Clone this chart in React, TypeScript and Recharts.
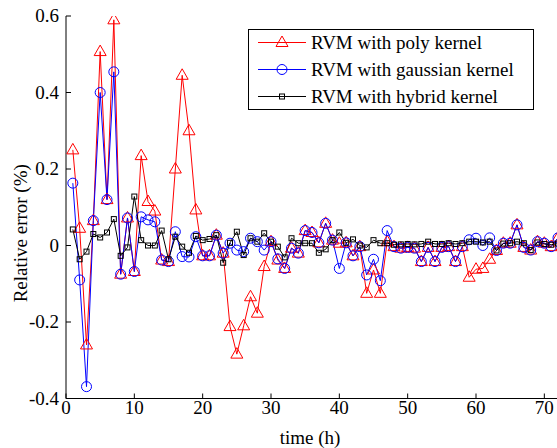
import React from "react"
import {
  LineChart,
  Line,
  XAxis,
  YAxis,
  Legend,
} from "recharts"

// hours 1..72
const hours = Array.from({ length: 72 }, (_, i) => i + 1)

// RVM with poly kernel
const polyErr = [
  0.25, 0.045, -0.26, 0.065, 0.507, 0.12, 0.59, -0.075, 0.072, -0.068,
  0.235, 0.115, 0.09, -0.038, -0.042, 0.2, 0.445, 0.3, 0.093, -0.027,
  -0.027, 0.027, -0.02, -0.212, -0.284, -0.21, -0.134, -0.177, -0.055, 0.01,
  -0.038, -0.06, -0.007, -0.02, 0.039, 0.034, 0.007, 0.058, 0.014, 0.006,
  0.007, -0.027, -0.003, -0.125, -0.064, -0.125, 0.01, -0.003, -0.007, -0.005,
  -0.007, -0.042, -0.005, -0.042, -0.005, -0.003, -0.042, -0.003, -0.083, -0.062,
  -0.06, -0.036, -0.013, 0.006, 0.006, 0.054, -0.005, -0.012, 0.01, 0.006,
  -0.003, 0.02,
]

// RVM with gaussian kernel
const gaussErr = [
  0.163, -0.09, -0.369, 0.065, 0.4, 0.12, 0.454, -0.075, 0.072, -0.068,
  0.075, 0.067, 0.062, -0.038, -0.042, 0.036, -0.029, -0.03, 0.023, -0.027,
  -0.027, 0.027, -0.02, 0.006, -0.012, -0.016, 0.019, 0.01, -0.012, 0.01,
  -0.035, -0.06, -0.007, -0.02, 0.039, 0.034, 0.007, 0.058, 0.014, -0.06,
  0.007, -0.027, -0.003, -0.077, -0.036, -0.092, 0.039, -0.003, -0.007, -0.005,
  -0.007, -0.042, -0.005, -0.042, -0.005, -0.003, -0.042, -0.003, 0.015, 0.019,
  0, 0.02, -0.013, 0.006, 0.006, 0.054, -0.005, -0.012, 0.01, 0.006,
  -0.003, 0.02,
]

// RVM with hybrid kernel
const hybridErr = [
  0.042, -0.036, -0.016, 0.03, 0.021, 0.034, 0.069, -0.027, -0.005, 0.128,
  0.014, 0, 0, 0.039, -0.036, 0.023, -0.003, -0.019, 0.025, 0.014,
  0.017, 0.027, -0.045, 0.007, 0.036, -0.025, 0.019, 0.01, 0.032, 0.01,
  -0.003, -0.031, 0.019, 0.006, 0.006, 0.006, -0.019, -0.01, 0.014, 0.034,
  0.007, 0.016, 0, -0.005, 0.014, 0.006, 0.006, 0.002, 0.003, 0.004,
  0.003, 0.004, 0.01, 0.004, 0.004, 0.006, 0.004, 0.006, 0.01, 0.01,
  0.008, 0.01, -0.013, 0.005, 0.006, 0.01, 0.006, -0.012, 0.008, 0.004,
  0.002, 0.005,
]

const xTicks = [0, 10, 20, 30, 40, 50, 60, 70]
const yTicks = [-0.4, -0.2, 0, 0.2, 0.4, 0.6]

const seriesNames = [
  "RVM with poly kernel",
  "RVM with gaussian kernel",
  "RVM with hybrid kernel",
]

const data = hours.map((t, i) => ({
  t,
  poly: polyErr[i],
  gauss: gaussErr[i],
  hybrid: hybridErr[i],
}))

const FONT = "Liberation Serif"

function Triangle({ cx, cy, stroke }: { cx: number; cy: number; stroke: string }) {
  return (
    <path
      d={`M${cx},${cy - 6.5} L${cx + 6},${cy + 4} L${cx - 6},${cy + 4} Z`}
      fill="none"
      stroke={stroke}
      strokeWidth={1}
    />
  )
}

function Circle({ cx, cy, stroke }: { cx: number; cy: number; stroke: string }) {
  return <circle cx={cx} cy={cy} r={5} fill="none" stroke={stroke} strokeWidth={1} />
}

function Square({ cx, cy, stroke }: { cx: number; cy: number; stroke: string }) {
  return (
    <rect x={cx - 2.5} y={cy - 2.5} width={5} height={5} fill="none" stroke={stroke} strokeWidth={1} />
  )
}

// tick labels, serif like matlab
function XTick({ x, y, payload }: any) {
  return (
    <text x={x} y={y + 15} textAnchor="middle" fontFamily={FONT} fontSize={19} fill="#000">
      {payload.value}
    </text>
  )
}

function YTick({ x, y, payload }: any) {
  const label = String(Math.round(payload.value * 10) / 10)
  return (
    <text x={x} y={y + 6} textAnchor="end" fontFamily={FONT} fontSize={19} fill="#000">
      {label}
    </text>
  )
}

// legend box drawn like the matlab one
function BoxLegend() {
  const rows = [
    { name: seriesNames[0], color: "#ff0000", Mark: Triangle },
    { name: seriesNames[1], color: "#0000ff", Mark: Circle },
    { name: seriesNames[2], color: "#000000", Mark: Square },
  ]
  return (
    <svg width={286} height={81} style={{ display: "block" }}>
      <rect x={0.5} y={0.5} width={285} height={80} fill="#fff" stroke="#000" />
      {rows.map((r, i) => {
        const y = 13.5 + i * 27
        return (
          <g key={r.name}>
            <line x1={10} x2={58} y1={y} y2={y} stroke={r.color} strokeWidth={1} />
            <r.Mark cx={34} cy={y} stroke={r.color} />
            <text x={63} y={y + 6} fontFamily={FONT} fontSize={19} fill="#000">
              {r.name}
            </text>
          </g>
        )
      })}
    </svg>
  )
}

function XLabel({ viewBox }: any) {
  return (
    <text
      x={viewBox.x + viewBox.width / 2 - 2}
      y={444}
      textAnchor="middle"
      fontFamily={FONT}
      fontSize={19}
      fill="#000"
    >
      time (h)
    </text>
  )
}

// y label, rotated; sits a bit below the axes centre like the original
function YLabel({ viewBox }: any) {
  const cx = 20
  const cy = viewBox.y + viewBox.height / 2 + 26
  return (
    <text
      x={cx}
      y={cy}
      transform={`rotate(-90, ${cx}, ${cy})`}
      textAnchor="middle"
      dominantBaseline="central"
      fontFamily={FONT}
      fontSize={19}
      fill="#000"
    >
      Relative error (%)
    </text>
  )
}

export default function App() {
  return (
    <div
      style={{
        position: "fixed",
        left: 0,
        top: 0,
        width: 557,
        height: 448,
        overflow: "hidden",
        background: "#fff",
      }}
    >
      <LineChart
        width={580}
        height={448}
        data={data}
        margin={{ top: 16, right: 22, bottom: 0, left: 0 }}
      >
        <XAxis
          dataKey="t"
          type="number"
          domain={[0, 72]}
          ticks={xTicks}
          allowDataOverflow
          height={49.5}
          tickSize={-5}
          tickMargin={5}
          tick={<XTick />}
          axisLine={{ stroke: "#000" }}
          tickLine={{ stroke: "#000" }}
          label={<XLabel />}
        />
        <XAxis
          xAxisId="top"
          orientation="top"
          dataKey="t"
          type="number"
          domain={[0, 72]}
          ticks={xTicks}
          allowDataOverflow
          height={0}
          tickSize={-5}
          tick={false}
          axisLine={{ stroke: "#000" }}
          tickLine={{ stroke: "#000" }}
        />
        <YAxis
          type="number"
          domain={[-0.4, 0.6]}
          ticks={yTicks}
          allowDataOverflow
          width={66}
          tickSize={-5}
          tickMargin={12}
          tick={<YTick />}
          axisLine={{ stroke: "#000" }}
          tickLine={{ stroke: "#000" }}
          label={<YLabel />}
        />
        <Legend
          layout="vertical"
          align="center"
          verticalAlign="middle"
          content={() => <BoxLegend />}
          wrapperStyle={{ left: 248, top: 29, width: 286, height: 81 }}
        />
        <Line
          dataKey="poly"
          name={seriesNames[0]}
          type="linear"
          stroke="#ff0000"
          strokeWidth={1}
          dot={(p: any) => <Triangle key={`tri-${p.index}`} cx={p.cx} cy={p.cy} stroke="#ff0000" />}
          activeDot={false}
          isAnimationActive={false}
        />
        <Line
          dataKey="gauss"
          name={seriesNames[1]}
          type="linear"
          stroke="#0000ff"
          strokeWidth={1}
          dot={(p: any) => <Circle key={`cir-${p.index}`} cx={p.cx} cy={p.cy} stroke="#0000ff" />}
          activeDot={false}
          isAnimationActive={false}
        />
        <Line
          dataKey="hybrid"
          name={seriesNames[2]}
          type="linear"
          stroke="#000000"
          strokeWidth={1}
          dot={(p: any) => <Square key={`sq-${p.index}`} cx={p.cx} cy={p.cy} stroke="#000000" />}
          activeDot={false}
          isAnimationActive={false}
        />
      </LineChart>
    </div>
  )
}
